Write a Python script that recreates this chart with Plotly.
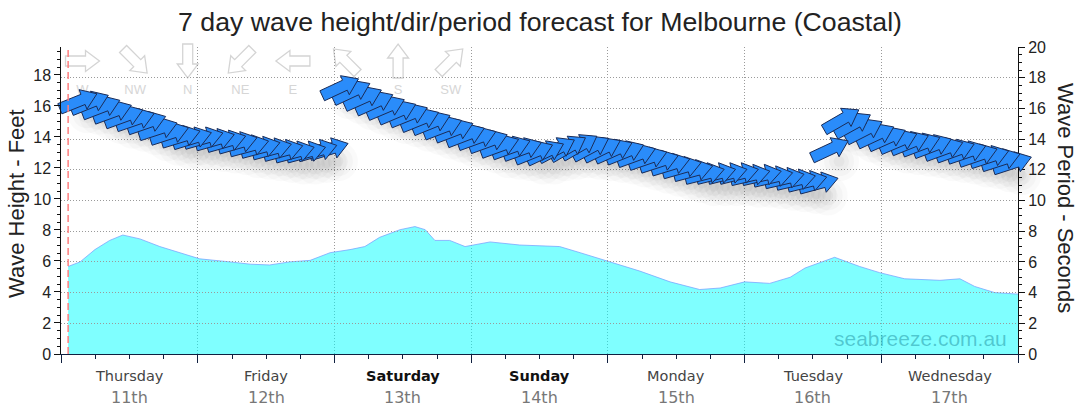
import numpy as np
import plotly.graph_objects as go

# ---------------- data ----------------
TITLE = "7 day wave height/dir/period forecast for Melbourne (Coastal)"
DAYS = ["Thursday", "Friday", "Saturday", "Sunday", "Monday", "Tuesday", "Wednesday"]
DATES = ["11th", "12th", "13th", "14th", "15th", "16th", "17th"]
WEEKEND = ["Saturday", "Sunday"]

# hours since Thursday 00:00 for each arrow
arrow_hours = [3, 5, 7, 9, 11, 13, 15, 17, 19, 21, 23, 25, 27, 29, 31, 33, 35, 37, 39, 41, 43, 45, 47,
               49, 51, 53, 55, 57, 59, 61, 63, 65, 67, 69, 71, 73, 75, 77, 79, 81, 83, 85, 87, 89, 91,
               93, 95, 97, 99, 101, 103, 105, 107, 109, 111, 113, 115, 117, 119, 121, 123, 125, 127,
               129, 131, 133, 135, 137, 139, 141, 143, 145, 147, 149, 151, 153, 155, 157, 159, 161,
               163, 165, 167]
# wave height (feet)
wave_height_ft = [16.3, 16.2, 15.9, 15.6, 15.3, 15.1, 14.9, 14.5, 14.2, 14.0, 13.9, 13.9, 13.8, 13.7,
                  13.6, 13.4, 13.3, 13.2, 13.1, 13.0, 13.0, 13.1, 13.2,
                  17.2, 16.9, 16.5, 16.2, 15.9, 15.6, 15.4, 15.1, 14.9, 14.6,
                  14.4, 14.1, 13.9, 13.7, 13.4, 13.3, 13.2, 13.0, 13.0, 13.2,
                  13.3, 13.4, 13.3, 13.2, 13.1, 13.0, 12.8, 12.6, 12.4, 12.2,
                  12.0, 11.8, 11.6, 11.6, 11.6, 11.6, 11.5, 11.5, 11.4, 11.3,
                  11.2, 11.1, 11.0,
                  13.2,
                  15.1, 14.8, 14.4, 14.1, 13.9, 13.7, 13.6, 13.5, 13.4, 13.2, 13.1, 13.0, 12.8,
                  12.7, 12.5, 12.3]
# direction waves come from (degrees)
wave_dir_from = [248, 248, 249, 250, 250, 251, 251, 252, 252, 253, 253, 254, 254, 254, 254, 255, 255,
                 255, 255, 255, 255, 254, 253,
                 245, 245, 246, 246, 247, 247, 248, 248, 248, 249,
                 249, 249, 250, 250, 250, 250, 250, 248, 245, 242,
                 240, 240, 242, 244, 246, 248, 250, 251, 252, 253,
                 254, 255, 256, 256, 256, 256, 257, 257, 257, 257,
                 257, 256, 255,
                 245,
                 240, 241, 243, 245, 246, 247, 248, 249, 249, 250, 250, 251, 251, 252, 252, 252]

# wave period (seconds)
period_hours = [1.2, 3.3, 5.9, 8.5, 10.8, 13.8, 17.3, 20.8, 24.3, 29.6, 33.2, 36.6, 40.1, 43.7, 47.2,
                50.7, 53.3, 55.9, 59.5, 62.1, 63.9, 65.6, 68.2, 70.9, 75.3, 80.5, 87.5, 91.1, 96.3,
                101.6, 106.9, 112.1, 115.7, 120.0, 124.4, 128.0, 130.6, 135.8, 140.2, 143.7, 148.1,
                154.3, 157.8, 160.4, 163.9, 168.0]
period_s = [5.7, 6.0, 6.8, 7.4, 7.75, 7.5, 7.0, 6.6, 6.2, 6.0, 5.85, 5.8, 6.0, 6.1, 6.6,
            6.8, 7.0, 7.6, 8.1, 8.3, 8.1, 7.4, 7.4, 7.0, 7.3, 7.1, 7.0, 6.6, 6.0,
            5.4, 4.7, 4.2, 4.3, 4.7, 4.6, 5.0, 5.6, 6.3, 5.7, 5.3, 4.9,
            4.8, 4.9, 4.4, 4.0, 3.9]

now_hour = 1.2

compass_labels = ["W", "NW", "N", "NE", "E", "SE", "S", "SW"]
compass_from = [270, 315, 0, 45, 90, 135, 180, 225]

# ---------------- geometry / styling ----------------
W, H = 1080, 414
PLOT_L, PLOT_R, PLOT_T, PLOT_B = 40, 1050, 47, 354
AX_L, AX_R = 61.3, 1018.0
X_RANGE = [0, 168]
YL_RANGE = [0, 19.8]
YR_RANGE = [0, 20]
GRID_VALS = [2, 4, 6, 8, 10, 12, 14, 16, 18]

pw = PLOT_R - PLOT_L
ph = PLOT_B - PLOT_T
px_per_hour = (AX_R - AX_L) / (X_RANGE[1] - X_RANGE[0])
px_per_ft = ph / (YL_RANGE[1] - YL_RANGE[0])
x_dom = [(AX_L - PLOT_L) / pw, (AX_R - PLOT_L) / pw]
x2_range = [X_RANGE[0] - (AX_L - PLOT_L) / px_per_hour, X_RANGE[1] + (PLOT_R - AX_R) / px_per_hour]

FONT = "Liberation Sans, Arial, sans-serif"
BLUE = "#2a8cfa"
OUTLINE = "#1a2c58"
GRID = dict(showgrid=True, gridcolor="#9a9a9a", griddash="1px,2px", gridwidth=1)


def paper_x(px):
    return (px - PLOT_L) / pw


def paper_y(py):
    return (PLOT_B - py) / ph


def arrow_pts(L, sw, hw, hl):
    h = L / 2.0
    return [(-h, -sw), (h - hl, -sw), (h - hl, -hw), (h, 0), (h - hl, hw), (h - hl, sw), (-h, sw), (-h, -sw)]


def screen_angle(dir_from):
    travel = (dir_from + 180) % 360
    return 90 - travel


def rotate(pts, theta):
    t = np.radians(theta)
    c, s = np.cos(t), np.sin(t)
    return [(u * c - v * s, u * s + v * c) for u, v in pts]


fig = go.Figure()

# empty trace so the horizontal-grid axis (y3) gets drawn
fig.add_trace(go.Scatter(x=[None], y=[None], xaxis="x", yaxis="y3", mode="lines",
                         hoverinfo="skip", showlegend=False))

# ---- wave period area (right axis) ----
fig.add_trace(go.Scatter(
    x=period_hours, y=period_s, xaxis="x", yaxis="y2", mode="lines",
    fill="tozeroy", fillcolor="rgba(0,255,255,0.5)",
    line=dict(color="rgba(120,160,255,0.75)", width=1), hoverinfo="skip", showlegend=False))

# ---- compass legend labels (drawn below arrows) ----
leg_px = [82.5 + 52.6 * i for i in range(len(compass_labels))]
fig.add_trace(go.Scatter(
    x=[x2_range[0] + (p - PLOT_L) / px_per_hour for p in leg_px],
    y=[(PLOT_B - 91) / px_per_ft] * len(leg_px),
    xaxis="x2", yaxis="y", mode="text", text=compass_labels,
    textfont=dict(family=FONT, size=13, color="#d6d6d6"),
    hoverinfo="skip", showlegend=False))

# ---- soft shadow beneath arrows ----
sh_x = [hh + 9 / px_per_hour for hh in arrow_hours]
sh_y = [ft - 12 / px_per_ft for ft in wave_height_ft]
for size, alpha in ((40, 0.018), (30, 0.022), (20, 0.028), (11, 0.03)):
    fig.add_trace(go.Scatter(
        x=sh_x, y=sh_y, xaxis="x2", yaxis="y", mode="markers",
        marker=dict(size=size, color=f"rgba(0,0,0,{alpha})", line=dict(width=0)),
        hoverinfo="skip", showlegend=False))

# ---- wave arrows (earlier arrows on top) ----
shape_px = arrow_pts(40, 5.5, 10.5, 15)
for hh, ft, d in reversed(list(zip(arrow_hours, wave_height_ft, wave_dir_from))):
    pts = rotate(shape_px, screen_angle(d))
    xs = [hh + u / px_per_hour for u, v in pts]
    ys = [ft + v / px_per_ft for u, v in pts]
    fig.add_trace(go.Scatter(
        x=xs, y=ys, xaxis="x2", yaxis="y", mode="lines", fill="toself",
        fillcolor=BLUE, line=dict(color=OUTLINE, width=1),
        hoverinfo="skip", showlegend=False))

# ---- compass legend arrows (paper shapes, below everything) ----
shapes = []
leg_shape = arrow_pts(34, 5, 10.5, 14)
for p, d in zip(leg_px, compass_from):
    pts = rotate(leg_shape, screen_angle(d))
    cy = 61
    path = "M " + " L ".join(f"{paper_x(p + u):.5f},{paper_y(cy - v):.5f}" for u, v in pts) + " Z"
    shapes.append(dict(type="path", path=path, xref="paper", yref="paper",
                       line=dict(color="#d4d4d4", width=1.3), fillcolor="rgba(0,0,0,0)", layer="below"))

# current-time marker
shapes.append(dict(type="line", xref="x", yref="paper", x0=now_hour, x1=now_hour, y0=0, y1=1,
                   line=dict(color="#ff7f7f", width=1.5, dash="7px,4px"), layer="above"))

# ---- annotations: day labels, titles, watermark ----
ann = []
for i, (d, dt) in enumerate(zip(DAYS, DATES)):
    if d in WEEKEND:
        dtxt, dcol = f"<b>{d}</b>", "#111111"
    else:
        dtxt, dcol = d, "#444444"
    ann.append(dict(x=12 + 24 * i, xref="x", y=paper_y(376), yref="paper", text=dtxt, showarrow=False,
                    font=dict(family="DejaVu Sans, Verdana, sans-serif", size=14.5, color=dcol),
                    xanchor="center", yanchor="middle"))
    ann.append(dict(x=12 + 24 * i, xref="x", y=paper_y(397), yref="paper", text=dt, showarrow=False,
                    font=dict(family="DejaVu Sans, Verdana, sans-serif", size=16, color="#777777"),
                    xanchor="center", yanchor="middle"))

ann.append(dict(x=paper_x(16), y=paper_y(204), xref="paper", yref="paper", text="Wave Height - Feet",
                textangle=-90, showarrow=False, font=dict(family=FONT, size=22, color="#222222"),
                xanchor="center", yanchor="middle"))
ann.append(dict(x=paper_x(1066), y=paper_y(198), xref="paper", yref="paper", text="Wave Period - Seconds",
                textangle=90, showarrow=False, font=dict(family=FONT, size=22, color="#222222"),
                xanchor="center", yanchor="middle"))
ann.append(dict(x=paper_x(1009), y=paper_y(338), xref="paper", yref="paper", text="seabreeze.com.au",
                showarrow=False, font=dict(family=FONT, size=21, color="rgba(0,110,130,0.38)"),
                xanchor="right", yanchor="middle"))

tickfont = dict(family=FONT, size=16, color="#222222")

fig.update_layout(
    width=W, height=H,
    margin=dict(l=PLOT_L, r=W - PLOT_R, t=PLOT_T, b=H - PLOT_B, autoexpand=False),
    paper_bgcolor="white", plot_bgcolor="rgba(0,0,0,0)",
    showlegend=False,
    title=dict(text=TITLE, x=0.5, xref="container", xanchor="center",
               y=1 - 22 / H, yref="container", yanchor="middle",
               font=dict(family=FONT, size=26.7, color="#222222")),
    xaxis=dict(domain=x_dom, range=X_RANGE, anchor="y", showticklabels=False,
               tick0=0, dtick=24, ticks="outside", ticklen=8, tickcolor="#102040",
               minor=dict(dtick=6, ticks="outside", ticklen=4, tickcolor="#102040", showgrid=False),
               showline=True, linecolor="#102040", linewidth=1,
               zeroline=False, automargin=False, fixedrange=True, **GRID),
    xaxis2=dict(domain=[0, 1], range=x2_range, anchor="y", visible=False,
                showgrid=False, zeroline=False, fixedrange=True),
    yaxis=dict(domain=[0, 1], range=YL_RANGE, anchor="x", side="left",
               tick0=0, dtick=2, ticks="outside", ticklen=6, tickcolor="#111111",
               minor=dict(dtick=0.5, ticks="outside", ticklen=3, tickcolor="#111111", showgrid=False),
               showline=True, linecolor="#111111", linewidth=1,
               showgrid=False, zeroline=False, tickfont=tickfont, automargin=False, fixedrange=True),
    yaxis2=dict(range=YR_RANGE, overlaying="y", anchor="x", side="right",
                tick0=0, dtick=2, ticks="outside", ticklen=6, tickcolor="#111111",
                minor=dict(dtick=0.5, ticks="outside", ticklen=3, tickcolor="#111111", showgrid=False),
                showline=True, linecolor="#111111", linewidth=1,
                showgrid=False, zeroline=False, tickfont=tickfont, automargin=False, fixedrange=True),
    yaxis3=dict(range=YR_RANGE, overlaying="y", anchor="x", side="right",
                tickvals=GRID_VALS, ticks="", showticklabels=False, showline=False,
                zeroline=False, automargin=False, fixedrange=True, **GRID),
    shapes=shapes,
    annotations=ann,
)

fig.write_html("out.html")
